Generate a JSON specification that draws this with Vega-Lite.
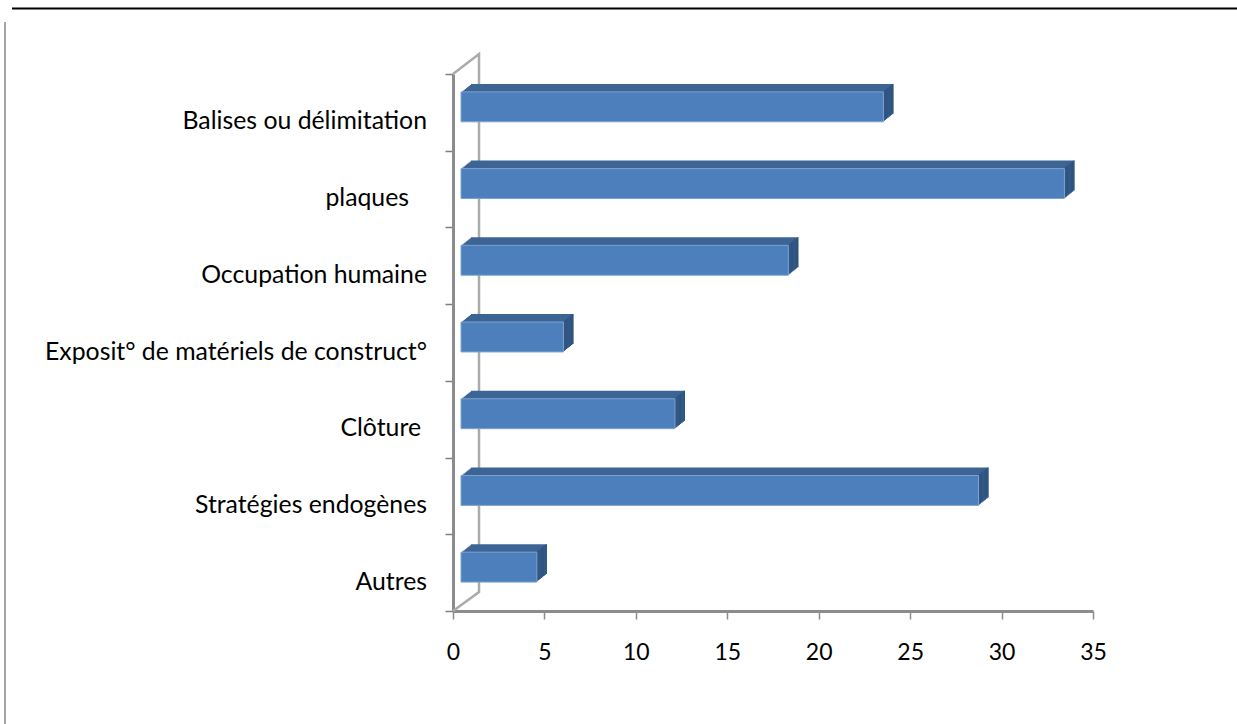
{"$schema":"https://vega.github.io/schema/vega-lite/v6.json","width":640,"height":537,"autosize":{"type":"none"},"padding":{"left":453,"top":74,"right":144,"bottom":113},"background":"white","config":{"view":{"stroke":null},"font":"Lato"},
"data":{"values":[{"cat":"Balises ou délimitation","value":23.1},{"cat":"plaques","value":33},{"cat":"Occupation humaine","value":17.9},{"cat":"Exposit° de matériels de construct°","value":5.6},{"cat":"Clôture","value":11.7},{"cat":"Stratégies endogènes","value":28.3},{"cat":"Autres","value":4.15}]},
"encoding":{"y":{"field":"cat","type":"nominal","sort":["Balises ou délimitation","plaques","Occupation humaine","Exposit° de matériels de construct°","Clôture","Stratégies endogènes","Autres"],"title":null,"scale":{"paddingInner":0,"paddingOuter":0},"axis":{"tickBand":"extent","tickSize":8,"tickWidth":1.5,"tickColor":"#7f7f7f","domainColor":"#8c8c8c","domainWidth":3,"labels":false}},"x":{"field":"value","type":"quantitative","scale":{"domain":[0,35],"nice":false},"title":null,"axis":{"values":[0,5,10,15,20,25,30,35],"tickSize":8,"tickWidth":1.5,"tickColor":"#8c8c8c","domainColor":"#8c8c8c","domainWidth":3,"labelFontSize":23,"labelColor":"#000","labelPadding":22,"labelFont":"Lato","labelFlush":false,"grid":false}}},
"layer":[
{"transform":[{"filter":"datum.cat=='Autres'"}],"mark":{"type":"point","shape":"M0,0L26,-19L26,-557L0,-537","size":4,"filled":false,"stroke":"#ababab","strokeWidth":2.5,"opacity":1},"encoding":{"x":{"datum":0,"type":"quantitative"},"y":{"field":"cat","type":"nominal","sort":["Balises ou délimitation","plaques","Occupation humaine","Exposit° de matériels de construct°","Clôture","Stratégies endogènes","Autres"],"bandPosition":1}}},
{"transform":[{"filter":"datum.cat=='Balises ou délimitation'"}],"mark":{"type":"point","shape":"M-441,-65.5L784,-65.5","size":4,"filled":false,"stroke":"#000","strokeWidth":2,"opacity":1},"encoding":{"x":{"datum":0,"type":"quantitative"},"y":{"field":"cat","type":"nominal","sort":["Balises ou délimitation","plaques","Occupation humaine","Exposit° de matériels de construct°","Clôture","Stratégies endogènes","Autres"],"bandPosition":0}}},
{"transform":[{"filter":"datum.cat=='Balises ou délimitation'"}],"mark":{"type":"point","shape":"M-448,-52L-448,650","size":4,"filled":false,"stroke":"#a6a6a6","strokeWidth":2,"opacity":1},"encoding":{"x":{"datum":0,"type":"quantitative"},"y":{"field":"cat","type":"nominal","sort":["Balises ou délimitation","plaques","Occupation humaine","Exposit° de matériels de construct°","Clôture","Stratégies endogènes","Autres"],"bandPosition":0}}},
{"mark":{"type":"bar","height":{"band":0.39},"xOffset":18,"x2Offset":18,"yOffset":-13.5,"y2Offset":-13.5,"fill":"#3d6594"}},
{"mark":{"type":"bar","height":{"band":0.39},"xOffset":16.75,"x2Offset":18,"yOffset":-13.5,"y2Offset":-13.5,"fill":"#2f537f"},"encoding":{"x":{"field":"value","type":"quantitative"},"x2":{"field":"value"}}},
{"mark":{"type":"bar","height":{"band":0.39},"xOffset":16.75,"x2Offset":16.75,"yOffset":-12.5,"y2Offset":-12.5,"fill":"#3d6594"}},
{"mark":{"type":"bar","height":{"band":0.39},"xOffset":15.5,"x2Offset":16.75,"yOffset":-12.5,"y2Offset":-12.5,"fill":"#2f537f"},"encoding":{"x":{"field":"value","type":"quantitative"},"x2":{"field":"value"}}},
{"mark":{"type":"bar","height":{"band":0.39},"xOffset":15.5,"x2Offset":15.5,"yOffset":-11.5,"y2Offset":-11.5,"fill":"#3d6594"}},
{"mark":{"type":"bar","height":{"band":0.39},"xOffset":14.25,"x2Offset":15.5,"yOffset":-11.5,"y2Offset":-11.5,"fill":"#2f537f"},"encoding":{"x":{"field":"value","type":"quantitative"},"x2":{"field":"value"}}},
{"mark":{"type":"bar","height":{"band":0.39},"xOffset":14.25,"x2Offset":14.25,"yOffset":-10.5,"y2Offset":-10.5,"fill":"#3d6594"}},
{"mark":{"type":"bar","height":{"band":0.39},"xOffset":13,"x2Offset":14.25,"yOffset":-10.5,"y2Offset":-10.5,"fill":"#2f537f"},"encoding":{"x":{"field":"value","type":"quantitative"},"x2":{"field":"value"}}},
{"mark":{"type":"bar","height":{"band":0.39},"xOffset":13,"x2Offset":13,"yOffset":-9.5,"y2Offset":-9.5,"fill":"#3d6594"}},
{"mark":{"type":"bar","height":{"band":0.39},"xOffset":11.75,"x2Offset":13,"yOffset":-9.5,"y2Offset":-9.5,"fill":"#2f537f"},"encoding":{"x":{"field":"value","type":"quantitative"},"x2":{"field":"value"}}},
{"mark":{"type":"bar","height":{"band":0.39},"xOffset":11.75,"x2Offset":11.75,"yOffset":-8.5,"y2Offset":-8.5,"fill":"#3d6594"}},
{"mark":{"type":"bar","height":{"band":0.39},"xOffset":10.5,"x2Offset":11.75,"yOffset":-8.5,"y2Offset":-8.5,"fill":"#2f537f"},"encoding":{"x":{"field":"value","type":"quantitative"},"x2":{"field":"value"}}},
{"mark":{"type":"bar","height":{"band":0.39},"xOffset":10.5,"x2Offset":10.5,"yOffset":-7.5,"y2Offset":-7.5,"fill":"#3d6594"}},
{"mark":{"type":"bar","height":{"band":0.39},"xOffset":9.25,"x2Offset":10.5,"yOffset":-7.5,"y2Offset":-7.5,"fill":"#2f537f"},"encoding":{"x":{"field":"value","type":"quantitative"},"x2":{"field":"value"}}},
{"mark":{"type":"bar","height":{"band":0.39},"xOffset":9.25,"x2Offset":9.25,"yOffset":-6.5,"y2Offset":-6.5,"fill":"#3d6594"}},
{"mark":{"type":"bar","height":{"band":0.39},"xOffset":8,"x2Offset":9.25,"yOffset":-6.5,"y2Offset":-6.5,"fill":"#2f537f"},"encoding":{"x":{"field":"value","type":"quantitative"},"x2":{"field":"value"}}},
{"mark":{"type":"bar","height":{"band":0.39},"xOffset":8,"x2Offset":8,"yOffset":-5.5,"y2Offset":-5.5,"fill":"#4d7fbc","stroke":"#7ea3cf","strokeWidth":1}},
{"mark":{"type":"text","align":"right","baseline":"middle","fontSize":24.8,"color":"#000","font":"Lato","dy":10,"dx":{"expr":"datum.cat=='plaques' ? -44 : datum.cat=='Clôture' ? -32 : -26"}},"encoding":{"x":{"datum":0,"type":"quantitative"},"text":{"field":"cat"}}}
]}
